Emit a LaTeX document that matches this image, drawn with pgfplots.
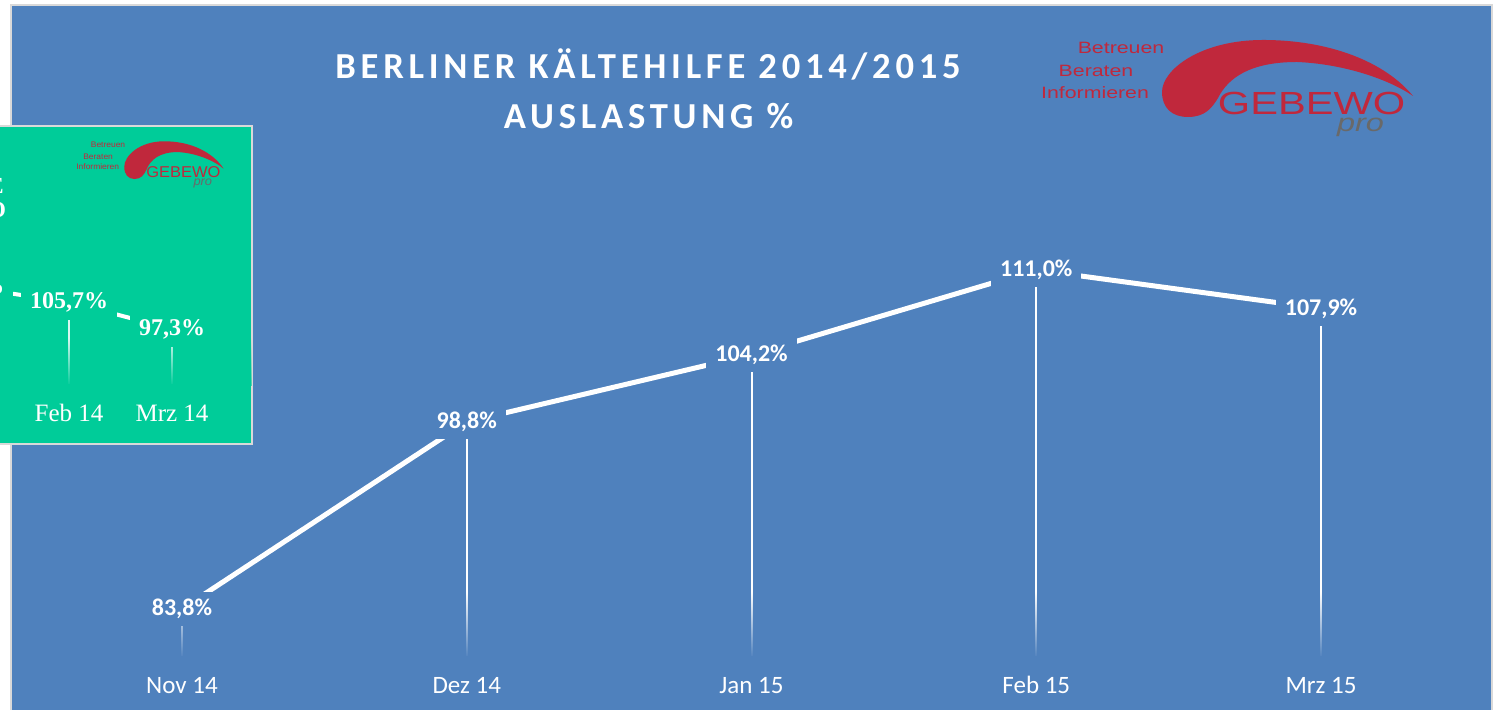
\documentclass[border=0pt]{standalone}
\usepackage{graphicx}
\usepackage{pgfplots}
\pgfplotsset{compat=1.18}
\usepackage{pgfplotstable}
\usepackage{fontspec}
\setmainfont{Carlito}
\newfontfamily\titlefont[LetterSpace=13]{Carlito}
\newfontfamily\timesfont{Liberation Serif}
\newfontfamily\arialfont{Liberation Sans}
\usetikzlibrary{fadings}

\definecolor{bgblue}{RGB}{79,129,189}
\definecolor{insetgreen}{RGB}{0,204,153}
\definecolor{logored}{RGB}{192,40,60}
\definecolor{logogrey}{RGB}{105,105,105}
\definecolor{framegrey}{RGB}{217,217,217}

\tikzfading[name=fadeup, top color=transparent!100, bottom color=transparent!0]

\pgfplotstableread{
x y
0 83.8
1 98.8
2 104.2
3 111.0
4 107.9
}\mainA

\pgfplotstableread{
x y
0 110.4
1 105.7
2 97.3
}\insetA

\newcommand{\gebewologo}{%
  \fill[logored] (1413,614) .. controls (1385,648) and (1330,670) .. (1263,670)
    .. controls (1200,670) and (1162,640) .. (1162,618)
    .. controls (1162,602) and (1172,593) .. (1188,593)
    .. controls (1205,593) and (1212,602) .. (1218,612)
    .. controls (1228,632) and (1250,648) .. (1297,648)
    .. controls (1345,646) and (1390,630) .. (1413,614) -- cycle;
  \node[inner sep=0pt, transform shape, text=logored, font=\arialfont\fontsize{8.2}{9}\selectfont] at (1121,662.5) {\scalebox{1.3}[1]{Betreuen}};
  \node[inner sep=0pt, transform shape, text=logored, font=\arialfont\fontsize{8.2}{9}\selectfont] at (1096,639) {\scalebox{1.3}[1]{Beraten}};
  \node[inner sep=0pt, transform shape, text=logored, font=\arialfont\fontsize{8.2}{9}\selectfont] at (1095,617.5) {\scalebox{1.3}[1]{Informieren}};
  \node[inner sep=0pt, transform shape, text=logored, font=\arialfont\fontsize{16}{18}\selectfont] at (1311.5,606.5) {\scalebox{1.3}[1]{GEBEWO}};
  \node[inner sep=0pt, transform shape, text=logogrey, font=\arialfont\itshape\fontsize{12.5}{14}\selectfont] at (1360.5,583) {\scalebox{1.3}[1]{pro}};
}

\pgfplotsset{
  mainframe/.style={
    at={(19.8pt,26.9pt)}, anchor=south west,
    scale only axis, width=711.9pt, height=218.05pt,
    xmin=-0.5, xmax=4.5, ymin=80, ymax=115,
  },
  insetframe/.style={
    at={(-42.75pt,162.75pt)}, anchor=south west,
    scale only axis, width=154.5pt, height=56.175pt,
    xmin=-0.5, xmax=2.5, ymin=80, ymax=115,
  },
}

\begin{document}
\begin{tikzpicture}[x=0.5pt,y=0.5pt]
\fill[white] (0,0) rectangle (1493,710);
\filldraw[fill=bgblue, draw=framegrey, line width=1pt] (10.5,-10) rectangle (1491.5,704.5);

% title
\node[anchor=base, text=white, inner sep=0pt, font=\titlefont\bfseries\fontsize{18.3}{22}\selectfont] at (648,631.7) {BERLINER KÄLTEHILFE 2014/2015};
\node[anchor=base, text=white, inner sep=0pt, font=\titlefont\bfseries\fontsize{18.3}{22}\selectfont] at (648.5,581.7) {AUSLASTUNG \%};

% large logo
\gebewologo

% main chart: drop lines and line
\begin{axis}[mainframe,
  axis line style={draw=none}, tick style={draw=none},
  ytick=\empty, xtick={0,1,2,3,4},
  xticklabels={Nov 14, Dez 14, Jan 15, Feb 15, Mrz 15},
  xticklabel style={anchor=base, yshift=-18.55pt, text=white, font=\fontsize{12.5}{15}\selectfont},
]
\addplot[ycomb, draw=white, line width=1pt, no marks] table[x=x, y=y] {\mainA};
\addplot[draw=white, line width=2.5pt, no marks] table[x=x, y=y] {\mainA};
\end{axis}
\fill[bgblue, path fading=fadeup] (39.6,52) rectangle (1463.4,118);
\begin{axis}[mainframe, hide axis, clip=false,
  point meta=y,
  nodes near coords={\pgfmathprintnumber[fixed,fixed zerofill,precision=1,use comma,assume math mode=true]{\pgfplotspointmeta}\%},
  nodes near coords align=center,
  every node near coord/.append style={anchor=center, fill=bgblue, text=white,
     font=\bfseries\fontsize{12}{14}\selectfont, inner xsep=4.5pt, inner ysep=0pt, minimum height=17pt},
]
\addplot[draw=none, no marks] table[x=x, y=y] {\mainA};
\end{axis}

% inset (part of the previous season's chart)
\filldraw[fill=insetgreen, draw=framegrey, line width=1pt] (-5,266) rectangle (252,584);
\begin{scope}
\clip (-5,266.5) rectangle (251.5,583.5);
\begin{axis}[insetframe,
  axis line style={draw=none}, tick style={draw=none},
  ytick=\empty, xtick={0,1,2},
  xticklabels={Jan 14, Feb 14, Mrz 14},
  xticklabel style={anchor=base, yshift=-18.6pt, text=white, font=\timesfont\fontsize{12.5}{15}\selectfont},
]
\addplot[ycomb, draw=white!85!insetgreen, line width=1pt, no marks] table[x=x, y=y] {\insetA};
\addplot[draw=white, line width=2pt, no marks] table[x=x, y=y] {\insetA};
\end{axis}
\fill[insetgreen, path fading=fadeup] (0,324) rectangle (252,372);
\begin{axis}[insetframe, hide axis, clip=false,
  point meta=y,
  nodes near coords={\pgfmathprintnumber[fixed,fixed zerofill,precision=1,use comma,assume math mode=true]{\pgfplotspointmeta}\%},
  nodes near coords align=center,
  every node near coord/.append style={anchor=center, fill=insetgreen, text=white,
     font=\timesfont\bfseries\fontsize{12}{14}\selectfont, inner xsep=4.5pt, inner ysep=0pt, minimum height=18pt},
]
\addplot[draw=none, no marks] table[x=x, y=y] {\insetA};
\end{axis}
\node[anchor=east, inner sep=0pt, text=white, font=\timesfont\bfseries\fontsize{11.5}{13}\selectfont] at (4,524.5) {E};
\node[anchor=east, inner sep=0pt, text=white, font=\timesfont\bfseries\fontsize{11.5}{13}\selectfont] at (6.5,499.5) {O};
\begin{scope}[cm={0.396,0,0,0.49,(-167.95pt,120.2pt)}]
\gebewologo
\end{scope}
\end{scope}

\pgfresetboundingbox
\useasboundingbox (0,0) rectangle (1493,710);
\end{tikzpicture}
\end{document}
